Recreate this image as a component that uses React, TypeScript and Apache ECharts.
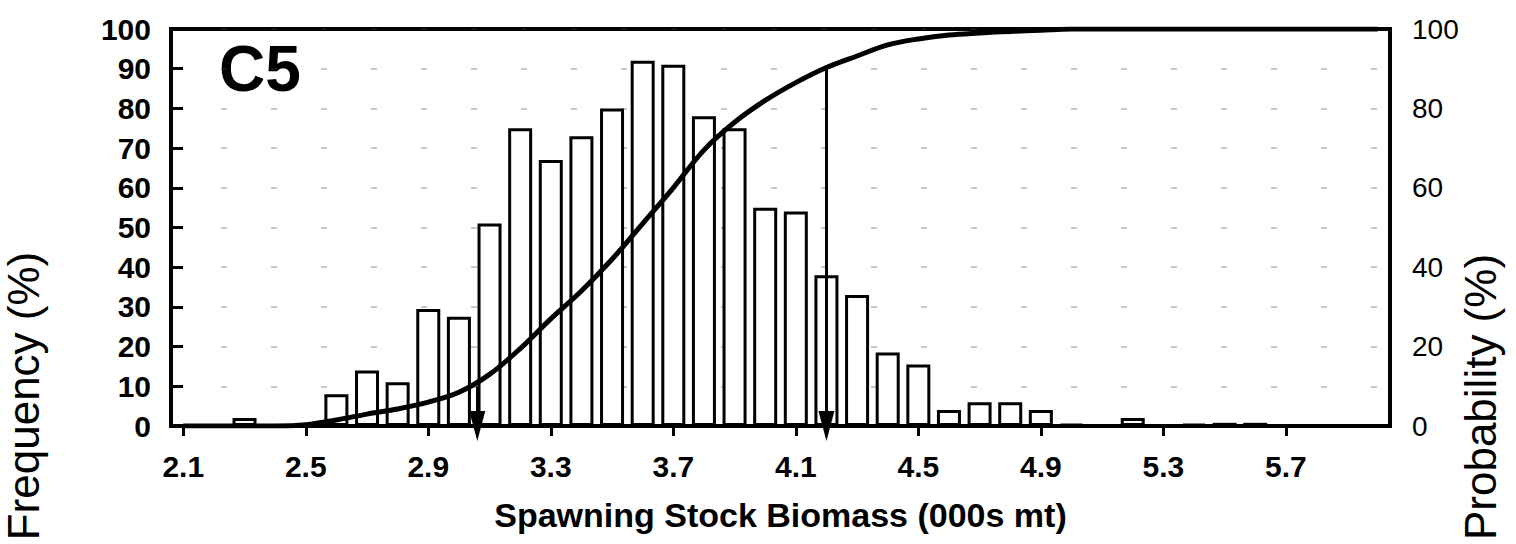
import React, { useEffect, useRef } from "react";
import * as echarts from "echarts";

// Bin centres (000s mt)
const binCenters = [
  2.1, 2.2, 2.3, 2.4, 2.5, 2.6, 2.7, 2.8, 2.9, 3.0,
  3.1, 3.2, 3.3, 3.4, 3.5, 3.6, 3.7, 3.8, 3.9, 4.0,
  4.1, 4.2, 4.3, 4.4, 4.5, 4.6, 4.7, 4.8, 4.9, 5.0,
  5.1, 5.2, 5.3, 5.4, 5.5, 5.6, 5.7, 5.8, 5.9, 6.0,
];

// Frequency (%) – histogram bars
const frequency = [
  0, 0, 2, 0, 0, 8, 14, 11, 29.5, 27.5,
  51, 75, 67, 73, 80, 92, 91, 78, 75, 55,
  54, 38, 33, 18.5, 15.5, 4, 6, 6, 4, 0.5,
  0.3, 2, 0.3, 0.5, 0.8, 0.8, 0.3, 0, 0, 0,
];

// Cumulative probability (%) – curve
const cumulative = [
  0, 0, 0, 0, 0.3, 1.5, 3, 4.3, 6, 8.5,
  13, 19.5, 27, 34, 42, 51, 60, 69.5, 76.5, 82,
  86.5, 90.3, 93.2, 96, 97.5, 98.5, 99, 99.4, 99.7, 100,
  100, 100, 100, 100, 100, 100, 100, 100, 100, 100,
];

// Tick labels on the biomass axis
const xTickLabels = [2.1, 2.5, 2.9, 3.3, 3.7, 4.1, 4.5, 4.9, 5.3, 5.7];

// Percentile markers (arrows): biomass value and cumulative probability
const percentileX = [3.06, 4.2];
const percentileP = [10, 90];

const panelLabel = "C5";
const xTitle = "Spawning Stock Biomass (000s mt)";
const leftTitle = "Frequency (%)";
const rightTitle = "Probability (%)";

const FONT = "'Liberation Sans', Arial, Helvetica, sans-serif";

export default function App() {
  const ref = useRef<HTMLDivElement>(null);

  useEffect(() => {
    if (!ref.current) return;
    const chart = echarts.init(ref.current, undefined, { renderer: "svg" });

    const barData = binCenters.map((x, i) => [x, frequency[i]]);
    const lineData = binCenters.map((x, i) => [x, cumulative[i]]);
    const markData = percentileX.map((x, i) => [
      { coord: [x, percentileP[i]] },
      { coord: [x, 0] },
    ]);

    chart.setOption({
      animation: false,
      backgroundColor: "#ffffff",
      textStyle: { fontFamily: FONT },
      grid: {
        left: 171,
        right: 126,
        top: 29,
        bottom: 118,
        show: true,
        borderColor: "#000",
        borderWidth: 4,
        backgroundColor: "transparent",
      },
      xAxis: {
        type: "value",
        min: 2.06,
        max: 6.04,
        name: xTitle,
        nameLocation: "middle",
        nameGap: 72,
        nameTextStyle: {
          fontFamily: FONT,
          fontWeight: "bold",
          fontSize: 34,
          color: "#000",
        },
        axisLine: { show: true, onZero: false, lineStyle: { color: "#000", width: 4 } },
        axisTick: {
          show: true,
          customValues: xTickLabels,
          length: 10,
          lineStyle: { color: "#000", width: 3 },
        },
        axisLabel: {
          customValues: xTickLabels,
          formatter: (v: number) => v.toFixed(1),
          fontFamily: FONT,
          fontWeight: "bold",
          fontSize: 30,
          color: "#000",
          margin: 25,
        },
        splitLine: { show: false },
      },
      yAxis: [
        {
          type: "value",
          min: 0,
          max: 100,
          interval: 10,
          position: "left",
          axisLine: { show: true, lineStyle: { color: "#000", width: 4 } },
          axisTick: {
            show: true,
            inside: true,
            length: 12,
            lineStyle: { color: "#000", width: 3 },
          },
          axisLabel: {
            fontFamily: FONT,
            fontWeight: "bold",
            fontSize: 30,
            color: "#000",
            margin: 20,
          },
          splitLine: {
            show: true,
            lineStyle: { color: "#444", width: 1.5, type: [6, 44], opacity: 0.4 },
          },
        },
        {
          type: "value",
          min: 0,
          max: 100,
          interval: 20,
          position: "right",
          axisLine: { show: true, lineStyle: { color: "#000", width: 4 } },
          axisTick: { show: false },
          axisLabel: {
            fontFamily: FONT,
            fontSize: 28,
            color: "#000",
            margin: 22,
          },
          splitLine: { show: false },
        },
      ],
      series: [
        {
          type: "bar",
          name: "Frequency",
          yAxisIndex: 0,
          data: barData,
          barWidth: 24,
          itemStyle: { color: "#ffffff", borderColor: "#000", borderWidth: 3 },
          z: 2,
        },
        {
          type: "line",
          name: "Cumulative probability",
          yAxisIndex: 1,
          data: lineData,
          smooth: 0.35,
          showSymbol: false,
          lineStyle: { color: "#000", width: 5 },
          z: 3,
          markLine: {
            silent: true,
            symbol: ["none", "triangle"],
            symbolSize: [16, 30],
            lineStyle: { color: "#000", width: 3, type: "solid" },
            itemStyle: { color: "#000" },
            label: { show: false },
            data: markData,
          },
        },
      ],
      graphic: [
        {
          type: "text",
          x: 219,
          y: 69,
          style: {
            text: panelLabel,
            fontFamily: FONT,
            fontWeight: "bold",
            fontSize: 64,
            fill: "#000",
            textAlign: "left",
            textVerticalAlign: "middle",
          },
        },
        {
          type: "text",
          x: 23,
          y: 396,
          rotation: Math.PI / 2,
          style: {
            text: leftTitle,
            fontFamily: FONT,
            fontSize: 44,
            fill: "#000",
            textAlign: "center",
            textVerticalAlign: "middle",
          },
        },
        {
          type: "text",
          x: 1480,
          y: 397,
          rotation: Math.PI / 2,
          style: {
            text: rightTitle,
            fontFamily: FONT,
            fontSize: 44,
            fill: "#000",
            textAlign: "center",
            textVerticalAlign: "middle",
          },
        },
      ],
    });

    return () => chart.dispose();
  }, []);

  return (
    <div
      ref={ref}
      style={{ position: "fixed", left: 0, top: 0, width: 1516, height: 544, background: "#fff" }}
    />
  );
}
